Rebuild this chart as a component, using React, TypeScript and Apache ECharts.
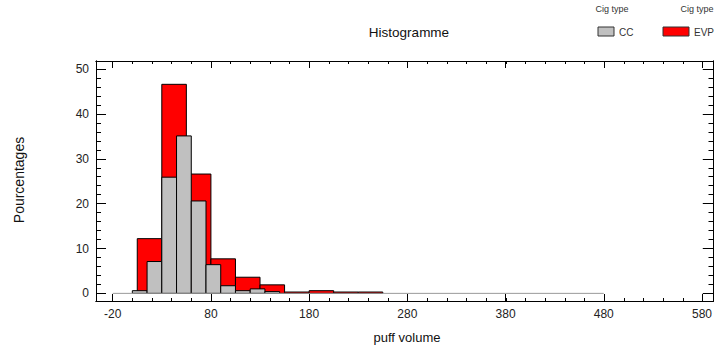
import React, { useEffect, useRef } from "react";
import * as echarts from "echarts";

const ccEdges = [0, 15, 30, 45, 60, 75, 90, 105, 120, 135, 150];
const ccPct = [0.6, 7.1, 25.9, 35.1, 20.6, 6.4, 1.7, 0.6, 1.0, 0.4];
const evpEdges = [5, 30, 55, 80, 105, 130, 155, 180, 205, 230, 255];
const evpPct = [12.2, 46.6, 26.6, 7.7, 3.6, 1.9, 0.3, 0.6, 0.3, 0.3];
const baselineRange = [-20, 480];
const xTickLabels = [-20, 80, 180, 280, 380, 480, 580];
const yTickLabels = [0, 10, 20, 30, 40, 50];

const X_MIN = -37;
const X_MAX = 591;
const Y_MIN = -1.7;
const Y_MAX = 51.8;

const xMinor: number[] = [];
for (let v = -20; v <= 580; v += 20) xMinor.push(v);
const yMinor: number[] = [];
for (let v = 0; v <= 50; v += 2) yMinor.push(v);

const FONT = "Liberation Sans, Arial, sans-serif";

function binsToData(edges: number[], vals: number[]) {
  return vals.map((v, i) => [edges[i], edges[i + 1], v]);
}

function makeRender(fill: string) {
  return (params: any, api: any) => {
    const x0 = api.value(0);
    const x1 = api.value(1);
    const v = api.value(2);
    const p0 = api.coord([x0, v]);
    const p1 = api.coord([x1, 0]);
    return {
      type: "rect",
      shape: { x: p0[0], y: p0[1], width: p1[0] - p0[0], height: p1[1] - p0[1] },
      style: { fill, stroke: "#000", lineWidth: 1 },
    };
  };
}

export default function App() {
  const ref = useRef<HTMLDivElement>(null);
  useEffect(() => {
    if (!ref.current) return;
    const chart = echarts.init(ref.current, undefined, { renderer: "svg" });
    const gridPos = { left: 96, top: 61, width: 617.5, height: 240 };
    const baseX = (pos: string, grid: number, ticks: number[], len: number, labels: boolean) => ({
      type: "value",
      gridIndex: grid,
      position: pos,
      min: X_MIN,
      max: X_MAX,
      axisLine: { show: true, onZero: false, lineStyle: { color: "#000", width: 1 } },
      axisTick: { show: true, inside: true, length: len, customValues: ticks, lineStyle: { color: "#000" } },
      axisLabel: labels
        ? { show: true, customValues: xTickLabels, color: "#222", fontSize: 12, fontFamily: FONT, margin: 7 }
        : { show: false },
      splitLine: { show: false },
    });
    const baseY = (pos: string, grid: number, ticks: number[], len: number, labels: boolean) => ({
      type: "value",
      gridIndex: grid,
      position: pos,
      min: Y_MIN,
      max: Y_MAX,
      axisLine: { show: true, onZero: false, lineStyle: { color: "#000", width: 1 } },
      axisTick: { show: true, inside: true, length: len, customValues: ticks, lineStyle: { color: "#000" } },
      axisLabel: labels
        ? { show: true, customValues: yTickLabels, color: "#222", fontSize: 12, fontFamily: FONT, margin: 7 }
        : { show: false },
      splitLine: { show: false },
    });
    chart.setOption({
      animation: false,
      backgroundColor: "#fff",
      grid: [gridPos, gridPos],
      xAxis: [
        baseX("bottom", 0, xTickLabels, 7, true),
        baseX("top", 0, xTickLabels, 7, false),
        baseX("bottom", 1, xMinor, 3, false),
        baseX("top", 1, xMinor, 3, false),
      ],
      yAxis: [
        baseY("left", 0, yTickLabels, 10, true),
        baseY("right", 0, yTickLabels, 10, false),
        baseY("left", 1, yMinor, 5, false),
        baseY("right", 1, yMinor, 5, false),
      ],
      graphic: [
        { type: "text", x: 409, y: 32, style: { text: "Histogramme", fontSize: 13.5, fontFamily: FONT, fill: "#111", textAlign: "center", textVerticalAlign: "middle" } },
        { type: "text", x: 407, y: 337, style: { text: "puff volume", fontSize: 13, fontFamily: FONT, fill: "#111", textAlign: "center", textVerticalAlign: "middle" } },
        {
          type: "text",
          x: 19,
          y: 180,
          rotation: Math.PI / 2,
          style: { text: "Pourcentages", fontSize: 14, fontFamily: FONT, fill: "#111", textAlign: "center", textVerticalAlign: "middle" },
        },
        { type: "text", x: 612, y: 9, style: { text: "Cig type", fontSize: 9, fontFamily: FONT, fill: "#333", textAlign: "center", textVerticalAlign: "middle" } },
        { type: "text", x: 697, y: 9, style: { text: "Cig type", fontSize: 9, fontFamily: FONT, fill: "#333", textAlign: "center", textVerticalAlign: "middle" } },
        { type: "rect", shape: { x: 598, y: 27, width: 16, height: 9 }, style: { fill: "#c0c0c0", stroke: "#333", lineWidth: 1 } },
        { type: "text", x: 619, y: 32, style: { text: "CC", fontSize: 10, fontFamily: FONT, fill: "#333", textVerticalAlign: "middle" } },
        { type: "rect", shape: { x: 663, y: 27, width: 26, height: 9 }, style: { fill: "#ff0000", stroke: "#333", lineWidth: 1 } },
        { type: "text", x: 694, y: 32, style: { text: "EVP", fontSize: 10, fontFamily: FONT, fill: "#333", textVerticalAlign: "middle" } },
      ],
      series: [
        {
          type: "line",
          xAxisIndex: 0,
          yAxisIndex: 0,
          data: baselineRange.map((x) => [x, 0]),
          symbol: "none",
          lineStyle: { color: "#999", width: 1 },
          silent: true,
        },
        {
          type: "custom",
          name: "EVP",
          xAxisIndex: 0,
          yAxisIndex: 0,
          renderItem: makeRender("#ff0000"),
          data: binsToData(evpEdges, evpPct),
          encode: { x: [0, 1], y: 2 },
        },
        {
          type: "custom",
          name: "CC",
          xAxisIndex: 0,
          yAxisIndex: 0,
          renderItem: makeRender("#c0c0c0"),
          data: binsToData(ccEdges, ccPct),
          encode: { x: [0, 1], y: 2 },
        },
      ],
    });
    return () => chart.dispose();
  }, []);
  return <div ref={ref} style={{ width: 715, height: 345, position: "absolute", left: 0, top: 0 }} />;
}
